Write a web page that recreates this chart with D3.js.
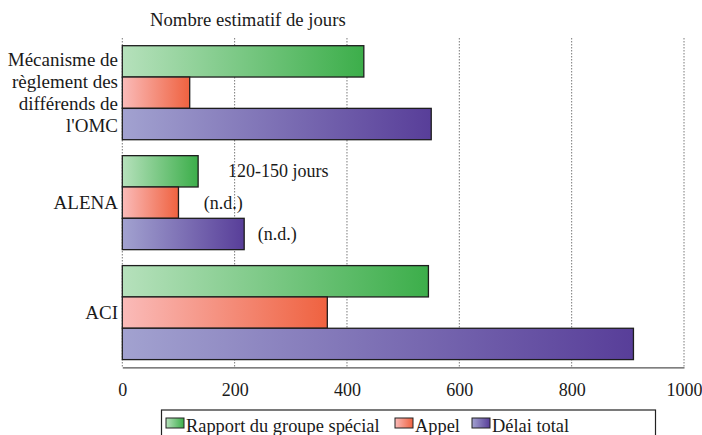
<!DOCTYPE html>
<html>
<head>
<meta charset="utf-8">
<script src="https://cdn.jsdelivr.net/npm/d3@7"></script>
<style>
  html, body { margin: 0; padding: 0; background: #fff; }
  svg { display: block; }
  text { font-family: "Liberation Serif", "Times New Roman", serif; fill: #1a1a1a; }
</style>
</head>
<body>
<svg id="chart" width="702" height="435"></svg>
<script>
// ---- Data ----
const categories = ["OMC", "ALENA", "ACI"];
const categoryLabels = [
  ["Mécanisme de", "règlement des", "différends de", "l'OMC"],
  ["ALENA"],
  ["ACI"]
];
const seriesNames = ["Rapport du groupe spécial", "Appel", "Délai total"];
const rapportValues = [430, 135, 545];
const appelValues = [120, 100, 365];
const totalValues = [550, 217, 910];
const tickValues = [0, 200, 400, 600, 800, 1000];
const axisTitle = "Nombre estimatif de jours";
const annotationTexts = ["120-150 jours", "(n.d.)", "(n.d.)"];
const annotationCategory = ["ALENA", "ALENA", "ALENA"];
const annotationSeries = [0, 1, 2];
const annotationValues = [188, 145, 241];

// ---- Styles ----
const gradStops = [
  ["#b6e1bc", "#3cae4a"],
  ["#fabbb9", "#ef6240"],
  ["#a2a2d0", "#583e99"]
];

const svg = d3.select("#chart");
const margin = { left: 122.3, right: 684, top: 38, bottom: 367.3 };

const x = d3.scaleLinear().domain([0, 1000]).range([margin.left, margin.right]);
const y = d3.scaleBand().domain(categories).range([margin.top, margin.bottom])
  .paddingInner(0.145).paddingOuter(0.07);
const ys = d3.scaleBand().domain(d3.range(seriesNames.length)).range([0, y.bandwidth()]).padding(0);

const defs = svg.append("defs");
gradStops.forEach((s, i) => {
  const g = defs.append("linearGradient").attr("id", "grad" + i)
    .attr("x1", "0%").attr("x2", "100%").attr("y1", "0%").attr("y2", "0%");
  g.append("stop").attr("offset", "0%").attr("stop-color", s[0]);
  g.append("stop").attr("offset", "100%").attr("stop-color", s[1]);
});

// Gridlines
svg.append("g").selectAll("line").data(tickValues).join("line")
  .attr("x1", d => x(d)).attr("x2", d => x(d))
  .attr("y1", margin.top).attr("y2", margin.bottom)
  .attr("stroke", "#7a7a7a").attr("stroke-width", 1)
  .attr("stroke-dasharray", "1.5,1.5");

// Bars
const seriesValues = [rapportValues, appelValues, totalValues];
const barData = [];
categories.forEach((c, ci) => {
  seriesValues.forEach((vals, si) => barData.push({ c, si, v: vals[ci] }));
});
svg.append("g").selectAll("rect").data(barData).join("rect")
  .attr("x", x(0))
  .attr("y", d => y(d.c) + ys(d.si))
  .attr("width", d => x(d.v) - x(0))
  .attr("height", ys.bandwidth())
  .attr("fill", d => `url(#grad${d.si})`)
  .attr("stroke", "#1e1e1e").attr("stroke-width", 1.3);

// Bottom axis
const axis = d3.axisBottom(x).tickValues(tickValues).tickSize(0).tickPadding(16)
  .tickFormat(d3.format("d"));
const ax = svg.append("g").attr("transform", `translate(0,${margin.bottom})`).call(axis);
ax.select(".domain").attr("stroke", "#555").attr("stroke-width", 1.3);
ax.selectAll("text").attr("font-size", 18).attr("font-family", "Liberation Serif")
  .attr("fill", "#1a1a1a").attr("dy", "0.71em");

// Axis title
svg.append("text").attr("x", 150).attr("y", 26).attr("font-size", 18.7).text(axisTitle);

// Category labels
const lh = 22;
categories.forEach((c, ci) => {
  const lines = categoryLabels[ci];
  const cy = y(c) + y.bandwidth() / 2;
  const t = svg.append("text").attr("text-anchor", "end").attr("font-size", 19);
  lines.forEach((ln, li) => {
    t.append("tspan").attr("x", 118)
      .attr("y", cy + (li - (lines.length - 1) / 2) * lh + 6.5)
      .text(ln);
  });
});

// Annotations
annotationTexts.forEach((txt, i) => {
  const cy = y(annotationCategory[i]) + ys(annotationSeries[i]) + ys.bandwidth() / 2;
  svg.append("text").attr("x", x(annotationValues[i])).attr("y", cy + 6)
    .attr("font-size", 18).text(txt);
});

// Legend
const legend = svg.append("g");
legend.append("rect").attr("x", 161.5).attr("y", 410).attr("width", 494).attr("height", 40)
  .attr("fill", "#fff").attr("stroke", "#222").attr("stroke-width", 1.2);
const legendX = [166, 395, 472];
seriesNames.forEach((n, i) => {
  legend.append("rect").attr("x", legendX[i]).attr("y", 418).attr("width", 18).attr("height", 10)
    .attr("fill", `url(#grad${i})`).attr("stroke", "#222").attr("stroke-width", 1);
  legend.append("text").attr("x", legendX[i] + 20).attr("y", 432).attr("font-size", 18.4).text(n);
});
</script>
</body>
</html>
